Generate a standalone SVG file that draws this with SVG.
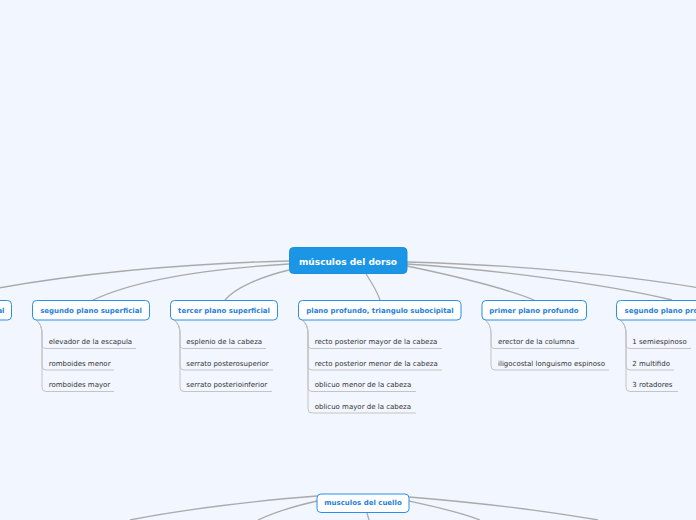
<svg xmlns="http://www.w3.org/2000/svg" width="696" height="520" viewBox="0 0 696 520">
<style>
.bg{fill:#f2f6fe}
.main rect{fill:#1b95e6;stroke:#1b8fe0;stroke-width:1}
.main text{fill:#fff;font:bold 9px "DejaVu Sans",sans-serif;text-anchor:middle}
.l1 rect{fill:#fff;stroke:#2b8eec;stroke-width:1}
.l1 text{fill:#1f7fdc;font:bold 7px "DejaVu Sans",sans-serif;text-anchor:middle}
.l2 text{fill:#333;font:7px "DejaVu Sans",sans-serif}
.top path{fill:none;stroke:#aaa;stroke-width:1.3}
.sub path{fill:none;stroke:#c4c4c4;stroke-width:1}
</style>
<rect class="bg" x="0" y="0" width="696" height="520"/>
<g id="connectors">
<g class="top">
<path d="M289,261 C200,263 60,272 -60,300"/>
<path d="M289,264 C220,268 140,278 93,300"/>
<path d="M289,270 C260,277 235,288 225,300"/>
<path d="M366,274 C372,283 377,291 380,300"/>
<path d="M407,266 C450,275 505,288 534,300"/>
<path d="M407,264 C500,270 610,285 672,300"/>
<path d="M407,262 C520,265 640,276 740,295"/>
<path d="M317,496 C260,500 180,510 130,520"/>
<path d="M317,501 C295,506 275,512 258,520"/>
<path d="M367,513 L369,520"/>
<path d="M409,501 C432,506 460,512 480,520"/>
<path d="M409,497 C470,502 540,510 598,520"/>
</g>
<g class="sub">
<path d="M36,320 Q42,324 42,334 L42,344 Q42,348.5 46,348.5 L136,348.5"/>
<path d="M36,320 Q42,324 42,334 L42,366 Q42,370 46,370 L114,370"/>
<path d="M36,320 Q42,324 42,334 L42,387.5 Q42,391.5 46,391.5 L114,391.5"/>
<path d="M174,320 Q180,324 180,334 L180,344 Q180,348.5 184,348.5 L266,348.5"/>
<path d="M174,320 Q180,324 180,334 L180,366 Q180,370 184,370 L273,370"/>
<path d="M174,320 Q180,324 180,334 L180,387.5 Q180,391.5 184,391.5 L272,391.5"/>
<path d="M302,320 Q308,324 308,334 L308,344 Q308,348.5 312,348.5 L442,348.5"/>
<path d="M302,320 Q308,324 308,334 L308,366 Q308,370 312,370 L442,370"/>
<path d="M302,320 Q308,324 308,334 L308,387.5 Q308,391.5 312,391.5 L416,391.5"/>
<path d="M302,320 Q308,324 308,334 L308,409 Q308,413 312,413 L416,413"/>
<path d="M485,320 Q491,324 491,334 L491,344 Q491,348.5 495,348.5 L579,348.5"/>
<path d="M485,320 Q491,324 491,334 L491,366 Q491,370 495,370 L609,370"/>
<path d="M620,320 Q626,324 626,334 L626,344 Q626,348.5 630,348.5 L691,348.5"/>
<path d="M620,320 Q626,324 626,334 L626,366 Q626,370 630,370 L674,370"/>
<path d="M620,320 Q626,324 626,334 L626,387.5 Q626,391.5 630,391.5 L678,391.5"/>
</g>
</g>
<g id="n-dorso" class="main"><rect x="289.5" y="247.5" width="117.5" height="26" rx="4"/><text x="348" y="264.5">músculos del dorso</text></g>
<g id="n-primer-sup" class="l1"><rect x="-100" y="300.5" width="111.5" height="19.5" rx="4"/><text x="4.5" y="312.5" style="text-anchor:end">al</text></g>
<g id="n-segundo-sup" class="l1"><rect x="32.5" y="300.5" width="117" height="19.5" rx="4"/><text x="91" y="312.5">segundo plano superficial</text></g>
<g id="n-tercer-sup" class="l1"><rect x="170.5" y="300.5" width="107" height="19.5" rx="4"/><text x="224" y="312.5">tercer plano superficial</text></g>
<g id="n-plano-prof" class="l1"><rect x="298.5" y="300.5" width="162.5" height="19.5" rx="4"/><text x="380" y="312.5">plano profundo, triangulo subocipital</text></g>
<g id="n-primer-prof" class="l1"><rect x="482" y="300.5" width="104.5" height="19.5" rx="4"/><text x="534" y="312.5">primer plano profundo</text></g>
<g id="n-segundo-prof" class="l1"><rect x="616.5" y="300.5" width="110" height="19.5" rx="4"/><text x="624.5" y="312.5" style="text-anchor:start">segundo plano profundo</text></g>
<g id="n-cuello" class="l1"><rect x="317" y="494" width="92" height="18.5" rx="4"/><text x="363" y="497.5" dy="7">musculos del cuello</text></g>
<g id="c-segundo-sup" class="l2">
<text x="48.7" y="344">elevador de la escapula</text>
<text x="48.7" y="365.5">romboides menor</text>
<text x="48.7" y="387">romboides mayor</text>
</g>
<g id="c-tercer-sup" class="l2">
<text x="186.3" y="344">esplenio de la cabeza</text>
<text x="186.3" y="365.5">serrato posterosuperior</text>
<text x="186.3" y="387">serrato posterioinferior</text>
</g>
<g id="c-plano-prof" class="l2">
<text x="314.7" y="344">recto posterior mayor de la cabeza</text>
<text x="314.7" y="365.5">recto posterior menor de la cabeza</text>
<text x="314.7" y="387">oblicuo menor de la cabeza</text>
<text x="314.7" y="408.5">oblicuo mayor de la cabeza</text>
</g>
<g id="c-primer-prof" class="l2">
<text x="498" y="344">erector de la columna</text>
<text x="498" y="365.5">iligocostal  longuismo espinoso</text>
</g>
<g id="c-segundo-prof" class="l2">
<text x="632.3" y="344">1 semiespinoso</text>
<text x="632.3" y="365.5">2 multifido</text>
<text x="632.3" y="387">3 rotadores</text>
</g>
</svg>
